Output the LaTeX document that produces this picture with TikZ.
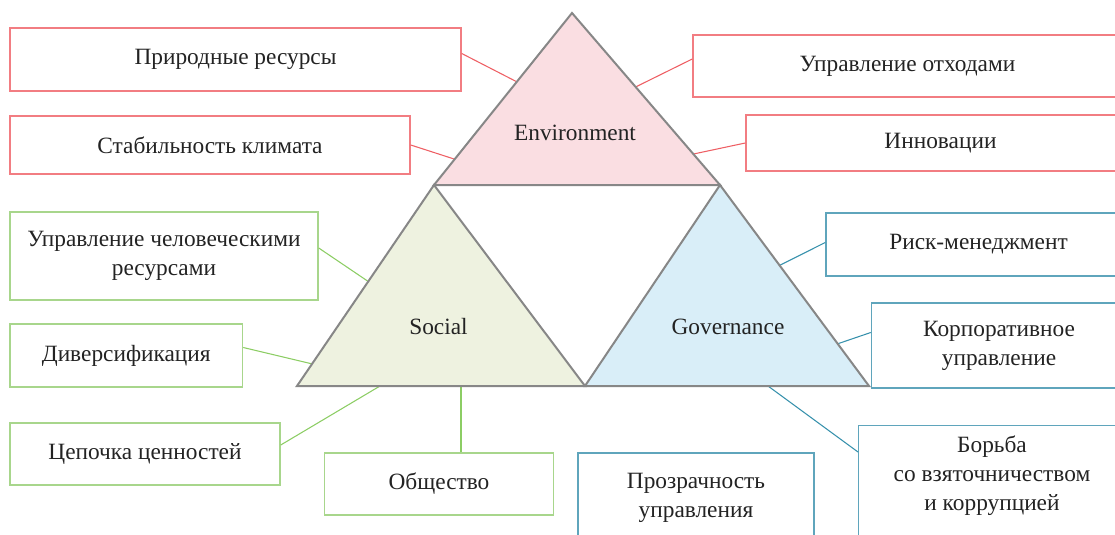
\documentclass[tikz,border=0pt]{standalone}
\usepackage{fontspec}
\setmainfont{Liberation Serif}
\usetikzlibrary{calc}
\definecolor{txt}{RGB}{35,35,35}
\definecolor{tristroke}{RGB}{135,135,135}
\definecolor{envfill}{RGB}{250,222,226}
\definecolor{socfill}{RGB}{238,242,224}
\definecolor{govfill}{RGB}{217,238,248}
\definecolor{redbox}{RGB}{242,125,130}
\definecolor{redline}{RGB}{238,95,100}
\definecolor{greenbox}{RGB}{168,214,140}
\definecolor{greenline}{RGB}{140,205,100}
\definecolor{bluebox}{RGB}{95,165,188}
\definecolor{blueline}{RGB}{55,145,172}
\begin{document}
\begin{tikzpicture}[x=0.75pt,y=-0.75pt,
  sz/.style 2 args={minimum width=#1*0.75pt, minimum height=#2*0.75pt},
  box/.style={draw, line width=1.1pt, fill=white, text=txt, align=center, inner sep=0pt,
    font=\fontsize{17.5}{21.75}\selectfont},
  lbl/.style={text=txt, align=center, inner sep=0pt, font=\fontsize{17.5}{21.75}\selectfont},
  rbox/.style={box, draw=redbox},
  gbox/.style={box, draw=greenbox},
  bbox/.style={box, draw=bluebox},
  rlink/.style={draw=redline, line width=0.8pt},
  glink/.style={draw=greenline, line width=0.8pt},
  blink/.style={draw=blueline, line width=0.8pt},
  tri/.style={draw=tristroke, line width=1.5pt, line join=miter}]
\useasboundingbox (0,0) rectangle (1115,535);
\clip (0,0) rectangle (1115,535);

% triangle corners
\coordinate (Et) at (572,13);  \coordinate (El) at (434,185); \coordinate (Er) at (720,185);
\coordinate (St) at (434,185); \coordinate (Sl) at (297,386); \coordinate (Sr) at (585,386);
\coordinate (Gt) at (720,185); \coordinate (Gl) at (585,386); \coordinate (Gr) at (869,386);

% attachment points on triangle edges
\coordinate (e1) at ($(Et)!0.40!(El)$);
\coordinate (e2) at ($(Et)!0.85!(El)$);
\coordinate (e3) at ($(Et)!0.43!(Er)$);
\coordinate (e4) at ($(Et)!0.82!(Er)$);
\coordinate (s1) at ($(St)!0.48!(Sl)$);
\coordinate (s2) at ($(St)!0.89!(Sl)$);
\coordinate (s3) at (380,386);
\coordinate (s4) at (461,386);
\coordinate (g1) at ($(Gt)!0.40!(Gr)$);
\coordinate (g2) at ($(Gt)!0.79!(Gr)$);
\coordinate (g3) at (768,386);

% boxes
\node[rbox, sz={451}{63}] (b1) at (235.5,59.5) {Природные ресурсы};
\node[rbox, sz={400}{58}] (b2) at (210,145) {Стабильность климата};
\node[rbox, sz={429}{62}] (b3) at (907.5,66) {Управление отходами};
\node[rbox, sz={389}{56}] (b4) at (940.5,143) {Инновации};
\node[gbox, sz={308}{88}] (b5) at (164,256) {Управление человеческими\\ресурсами};
\node[gbox, sz={232.5}{63}] (b6) at (126.25,355.5) {Диверсификация};
\node[gbox, sz={270}{62}] (b7) at (145,454) {Цепочка ценностей};
\node[gbox, sz={229}{62}] (b8) at (439,484) {Общество};
\node[bbox, sz={236}{90}] (b9) at (696,498) {Прозрачность\\управления};
\node[bbox, sz={305}{63}] (b10) at (978.5,244.5) {Риск-менеджмент};
\node[bbox, sz={255}{85}] (b11) at (999,345.5) {Корпоративное\\управление};
\node[bbox, sz={268}{140}, anchor=north west] (b12) at (858,425) {};
\node[lbl] (t12) at (992,476) {Борьба\\со взяточничеством\\и коррупцией};

% connectors
\draw[rlink] (b1.east) ++(0,-6) coordinate (c1) -- (e1);
\draw[rlink] (b2.east) -- (e2);
\draw[rlink] (b3.west) ++(0,-7) coordinate (c3) -- (e3);
\draw[rlink] (b4.west) -- (e4);
\draw[glink] (b5.east) ++(0,-8) coordinate (c5) -- (s1);
\draw[glink] (b6.east) ++(0,-8) coordinate (c6) -- (s2);
\draw[glink] (b7.east) ++(0,-9) coordinate (c7) -- (s3);
\draw[glink] (b8.north -| s4) -- (s4);
\draw[blink] (b10.west) ++(0,-2) coordinate (c10) -- (g1);
\draw[blink] (b11.west) ++(0,-13) coordinate (c11) -- (g2);
\draw[blink] (b12.north west) ++(0,27) coordinate (c12) -- (g3);

% triangles
\draw[tri, fill=envfill] (Et) -- (El) -- (Er) -- cycle;
\draw[tri, fill=socfill] (St) -- (Sl) -- (Sr) -- cycle;
\draw[tri, fill=govfill] (Gt) -- (Gl) -- (Gr) -- cycle;

\node[lbl] (env) at (575,133) {Environment};
\node[lbl] (soc) at (438.5,327) {Social};
\node[lbl] (gov) at (728,327) {Governance};
\end{tikzpicture}
\end{document}
